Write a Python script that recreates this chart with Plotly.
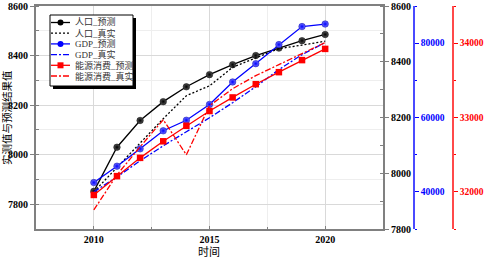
import plotly.graph_objects as go

years = [2010, 2011, 2012, 2013, 2014, 2015, 2016, 2017, 2018, 2019, 2020]
pop_pred = [7852, 8030, 8138, 8214, 8274, 8323, 8363, 8400, 8430, 8460, 8485]
pop_true = [7850, 7948, 8048, 8145, 8238, 8278, 8353, 8390, 8428, 8442, 8458]
gdp_pred = [42500, 46900, 51570, 56430, 59260, 63520, 69560, 74490, 79620, 84470, 85150]
gdp_true = [39980, 44020, 48340, 52380, 56160, 59930, 63980, 68290, 72880, 76920, 80160]
eng_pred = [31958, 32211, 32457, 32680, 32889, 33087, 33270, 33448, 33610, 33772, 33923]
eng_true = [31756, 32228, 32606, 32970, 32498, 33158, 33388, 33563, 33711, 33860, 34008]

names = ["人口_预测", "人口_真实", "GDP_预测", "GDP_真实", "能源消费_预测", "能源消费_真实"]
x_ticks = [2010, 2015, 2020]
left_ticks = [7800, 8000, 8200, 8400, 8600]
right_ticks = [7800, 8000, 8200, 8400, 8600]
gdp_ticks = [40000, 60000, 80000]
eng_ticks = [32000, 33000, 34000]

W, H = 485, 261
L, R, T, B = 36, 460, 6, 229
FONT = "Liberation Serif, Noto Sans CJK SC, serif"
BLUE = "#0000ff"
RED = "#ff0000"
GRAY = "#808080"


def px(xp):
    return (xp - L) / (R - L)


def py(yp):
    return (B - yp) / (B - T)


fig = go.Figure()

fig.add_trace(go.Scatter(x=years, y=pop_pred, name=names[0], mode="lines+markers", yaxis="y",
                         line=dict(color="black", width=1.3),
                         marker=dict(symbol="circle", size=6.5, color="#555555",
                                     gradient=dict(type="radial", color="black"),
                                     line=dict(width=0.5, color="black"))))
fig.add_trace(go.Scatter(x=years, y=pop_true, name=names[1], mode="lines", yaxis="y",
                         line=dict(color="black", width=1.3, dash="2px,2px")))
fig.add_trace(go.Scatter(x=years, y=gdp_pred, name=names[2], mode="lines+markers", yaxis="y3",
                         line=dict(color=BLUE, width=1.3),
                         marker=dict(symbol="circle", size=6.5, color="#7070ff",
                                     gradient=dict(type="radial", color=BLUE),
                                     line=dict(width=0.5, color="#0000aa"))))
fig.add_trace(go.Scatter(x=years, y=gdp_true, name=names[3], mode="lines", yaxis="y3",
                         line=dict(color=BLUE, width=1.3, dash="6px,2px,2px,2px")))
fig.add_trace(go.Scatter(x=years, y=eng_pred, name=names[4], mode="lines+markers", yaxis="y4",
                         line=dict(color=RED, width=1.3),
                         marker=dict(symbol="square", size=6.5, color=RED, line=dict(width=0))))
fig.add_trace(go.Scatter(x=years, y=eng_true, name=names[5], mode="lines", yaxis="y4",
                         line=dict(color=RED, width=1.3, dash="6px,2px,2px,2px")))
# carrier for the right-hand black axis (invisible)
fig.add_trace(go.Scatter(x=years, y=pop_pred, yaxis="y2", mode="lines",
                         line=dict(width=0), opacity=0, hoverinfo="skip", showlegend=False))

tick_black = dict(family=FONT, size=10, color="black", weight="bold")

fig.update_layout(
    width=W, height=H,
    margin=dict(l=L, r=W - R, t=T, b=H - B, autoexpand=False),
    paper_bgcolor="white", plot_bgcolor="white",
    showlegend=False,
    font=dict(family=FONT, size=10, color="black"),
    xaxis=dict(domain=[0, px(383)], range=[2007.5, 2022.5], automargin=False,
               tickvals=x_ticks, ticktext=[str(v) for v in x_ticks],
               ticks="inside", ticklen=3, tickcolor=GRAY, tickwidth=1,
               showline=True, linecolor=GRAY, linewidth=2, mirror=True,
               showgrid=True, gridcolor="#d9d9d9", gridwidth=1,
               minor=dict(dtick=2.5, tick0=2010, ticks="inside", ticklen=2, tickcolor=GRAY,
                          showgrid=True, gridcolor="#eeeeee"),
               tickfont=tick_black, zeroline=False),
    yaxis=dict(range=[7700, 8600], tickvals=left_ticks, ticktext=[str(v) for v in left_ticks],
               automargin=False,
               ticks="outside", ticklen=4, tickcolor=GRAY, tickwidth=1,
               showline=True, linecolor=GRAY, linewidth=2,
               showgrid=True, gridcolor="#d9d9d9",
               minor=dict(dtick=100, tick0=7700, ticks="inside", ticklen=3, tickcolor=GRAY,
                          showgrid=True, gridcolor="#eeeeee"),
               tickfont=tick_black, zeroline=False),
    yaxis2=dict(range=[7800, 8600], tickvals=right_ticks, ticktext=[str(v) for v in right_ticks],
                overlaying="y", side="right", automargin=False,
                anchor="x", ticks="outside", ticklen=4, tickcolor=GRAY,
                showline=True, linecolor=GRAY, linewidth=2, showgrid=False,
                minor=dict(dtick=100, tick0=7800, ticks="inside", ticklen=3, tickcolor=GRAY),
                tickfont=tick_black, zeroline=False),
    yaxis3=dict(range=[30000, 90000], tickvals=gdp_ticks, ticktext=[str(v) for v in gdp_ticks],
                overlaying="y", side="right", automargin=False,
                anchor="free", position=px(414), ticks="outside", ticklen=4, tickcolor=BLUE,
                showline=True, linecolor="#4a4aff", linewidth=1.5, showgrid=False,
                minor=dict(dtick=10000, tick0=30000, ticks="outside", ticklen=2, tickcolor=BLUE),
                tickfont=dict(family=FONT, size=9.5, color=BLUE, weight="bold"), zeroline=False),
    yaxis4=dict(range=[31500, 34500], tickvals=eng_ticks, ticktext=[str(v) for v in eng_ticks],
                overlaying="y", side="right", automargin=False,
                anchor="free", position=px(453), ticks="outside", ticklen=4, tickcolor=RED,
                showline=True, linecolor="#ff4a4a", linewidth=1.5, showgrid=False,
                minor=dict(dtick=500, tick0=31500, ticks="outside", ticklen=2, tickcolor=RED),
                tickfont=dict(family=FONT, size=9.5, color=RED, weight="bold"), zeroline=False),
)

# axis titles
fig.add_annotation(x=px(7), y=py(118), xref="paper", yref="paper", text="实测值与预测结果值",
                   textangle=-90, showarrow=False, xanchor="center", yanchor="middle",
                   font=dict(family=FONT, size=10.5, color="black"))
fig.add_annotation(x=px(209), y=py(252), xref="paper", yref="paper", text="时间",
                   showarrow=False, xanchor="center", yanchor="middle",
                   font=dict(family=FONT, size=11, color="black"))

# manual legend (Origin style with drop shadow)
shapes = []
shapes.append(dict(type="rect", xref="paper", yref="paper", x0=px(53), x1=px(136),
                   y0=py(89), y1=py(18), fillcolor="black", line=dict(width=0)))
shapes.append(dict(type="rect", xref="paper", yref="paper", x0=px(50), x1=px(133),
                   y0=py(86), y1=py(15), fillcolor="white", line=dict(color="black", width=1)))
rows = [22.5, 33.2, 43.9, 54.6, 65.3, 76.0]
styles = [
    dict(color="black", dash="solid", marker="circle", mcol="black"),
    dict(color="black", dash="2px,2px", marker=None),
    dict(color=BLUE, dash="solid", marker="circle", mcol=BLUE),
    dict(color=BLUE, dash="6px,2px,2px,2px", marker=None),
    dict(color=RED, dash="solid", marker="square", mcol=RED),
    dict(color=RED, dash="6px,2px,2px,2px", marker=None),
]
for r, st, nm in zip(rows, styles, names):
    shapes.append(dict(type="line", xref="paper", yref="paper", x0=px(51), x1=px(70),
                       y0=py(r), y1=py(r), line=dict(color=st["color"], width=1.3, dash=st["dash"])))
    if st["marker"]:
        s = 3.0
        shapes.append(dict(type="circle" if st["marker"] == "circle" else "rect",
                           xref="paper", yref="paper",
                           x0=px(60.5 - s), x1=px(60.5 + s), y0=py(r + s), y1=py(r - s),
                           fillcolor=st["mcol"], line=dict(width=0)))
    fig.add_annotation(x=px(73), y=py(r), xref="paper", yref="paper", text=nm,
                       showarrow=False, xanchor="left", yanchor="middle",
                       font=dict(family=FONT, size=9, color="#333333"))
fig.update_layout(shapes=shapes)

fig.write_html("out.html", config={"displayModeBar": False},
               post_script="document.body.style.margin='0px';")
